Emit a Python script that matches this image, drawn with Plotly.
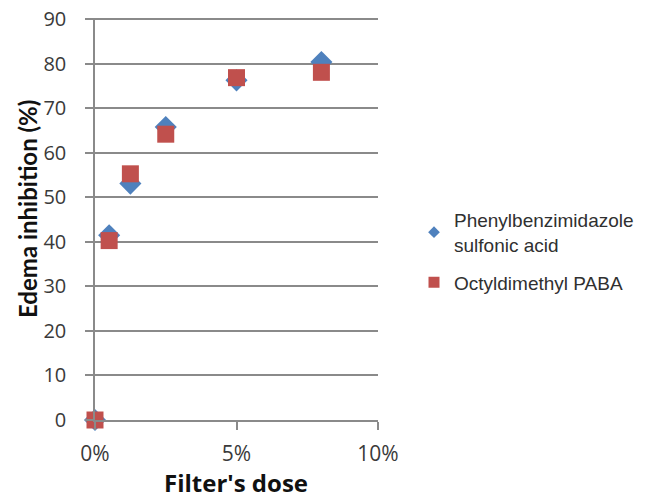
import plotly.graph_objects as go

doses = [0.0, 0.005, 0.0125, 0.025, 0.05, 0.08]
phenyl = [0, 41.5, 53.1, 65.8, 76.3, 80.4]
octyl = [0, 40.3, 55.3, 64.2, 76.9, 78.1]
series_names = ["Phenylbenzimidazole<br>sulfonic acid", "Octyldimethyl PABA"]
colors = ["#4F81BD", "#C0504D"]
x_ticks = [0, 0.05, 0.10]
x_tick_labels = ["0%", "5%", "10%"]
y_ticks = [0, 10, 20, 30, 40, 50, 60, 70, 80, 90]

fig = go.Figure()
fig.add_trace(go.Scatter(x=doses, y=phenyl, mode="markers", showlegend=False,
                         marker=dict(symbol="diamond", size=17, color=colors[0]),
                         cliponaxis=False))
fig.add_trace(go.Scatter(x=doses, y=octyl, mode="markers", showlegend=False,
                         marker=dict(symbol="square", size=17, color=colors[1]),
                         cliponaxis=False))
# legend entries (smaller markers, as in the reference legend)
fig.add_trace(go.Scatter(x=[None], y=[None], mode="markers", name=series_names[0],
                         legendgroup="a",
                         marker=dict(symbol="diamond", size=9, color=colors[0])))
fig.add_trace(go.Scatter(x=[None], y=[None], mode="markers", name=series_names[1],
                         legendgroup="b",
                         marker=dict(symbol="square", size=11, color=colors[1])))

# the page body adds an 8px offset; plot area placed so it lands at x 95-378, y ~19-420 on screen
L, R, T, B = 87, 370, 10, 412
W, H = 655, 498
pw, ph = R - L, B - T

grid = "#8a8a8a"
tickfont = dict(family="Open Sans, sans-serif", size=20, color="#3a3a3a")
fig.update_layout(
    width=W, height=H,
    margin=dict(l=L, r=W - R, t=T, b=H - B, autoexpand=False),
    paper_bgcolor="white", plot_bgcolor="white",
    font=dict(family="Open Sans, sans-serif", color="#404040"),
    showlegend=True,
    legend=dict(x=(414 - 8 - L) / pw, y=(B - 193) / ph, xanchor="left", yanchor="top",
                font=dict(family="Liberation Sans, Arial, sans-serif", size=19, color="#303030"),
                traceorder="grouped", tracegroupgap=10),
    xaxis=dict(range=[0, 0.10], tickvals=x_ticks, ticktext=x_tick_labels,
               showgrid=False, showline=True, linecolor=grid, linewidth=1.5,
               ticks="outside", ticklen=8, tickcolor=grid, tickwidth=1.5,
               tickfont=dict(family="Open Sans, sans-serif", size=21, color="#3a3a3a"),
               zeroline=False, automargin=False,
               ticklabelstandoff=6, ticklabeloverflow="allow"),
    yaxis=dict(range=[0, 90.3], tickvals=y_ticks,
               showgrid=True, gridcolor=grid, gridwidth=1.5,
               showline=True, linecolor=grid, linewidth=1.5,
               ticks="outside", ticklen=8, tickcolor=grid, tickwidth=1.5,
               tickfont=tickfont, zeroline=False, automargin=False,
               ticklabelstandoff=15, ticklabeloverflow="allow"),
    annotations=[
        dict(text="<b>Edema inhibition (%)</b>", textangle=-90, showarrow=False,
             xref="paper", yref="paper", x=(19 - L) / pw, y=(B - 201) / ph,
             xanchor="center", yanchor="middle",
             font=dict(family="Lato, sans-serif", size=24, color="#111111")),
        dict(text="<b>Filter's dose</b>", showarrow=False,
             xref="paper", yref="paper", x=(228 - L) / pw, y=(B - 474) / ph,
             xanchor="center", yanchor="middle",
             font=dict(family="Open Sans, sans-serif", size=24, color="#111111")),
    ],
)

fig.write_html("out.html")
